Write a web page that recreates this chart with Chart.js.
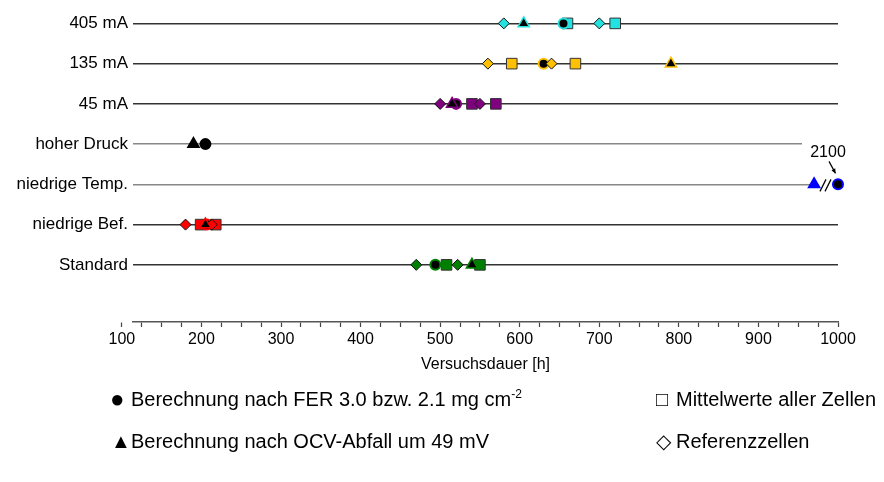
<!DOCTYPE html>
<html>
<head>
<meta charset="utf-8">
<script src="https://cdn.jsdelivr.net/npm/chart.js@4.4.1/dist/chart.umd.min.js"></script>
<style>
    html, body { margin: 0; padding: 0; background: #fff; }
    #wrap { position: relative; width: 884px; height: 482px; overflow: hidden; }
    #chart { position: absolute; left: 0; top: 0; }
    .leg { position: absolute; font-family: "Liberation Sans", Arial, sans-serif; font-size: 20px; line-height: 22px; color: #000; white-space: nowrap; }
    .leg sup { font-size: 12px; vertical-align: 8px; line-height: 0; }
    .sym { font-size: 24px; line-height: 22px; }
</style>
</head>
<body>
<div id="wrap">
    <canvas id="chart" width="884" height="482" style="width:884px;height:482px"></canvas>
    <div class="leg sym" style="left:110px; top:388px;">●</div>
    <div class="leg" style="left:131px; top:388px;">Berechnung nach FER 3.0 bzw. 2.1 mg cm<sup>-2</sup></div>
    <div class="leg" style="left:656px; top:388px;">□</div>
    <div class="leg" style="left:676px; top:388px;">Mittelwerte aller Zellen</div>
    <div class="leg" style="left:111px; top:430px;">▲</div>
    <div class="leg" style="left:131px; top:430px;">Berechnung nach OCV-Abfall um 49 mV</div>
    <div class="leg" style="left:656px; top:430px;">◇</div>
    <div class="leg" style="left:676px; top:430px;">Referenzzellen</div>
</div>
<script>
// Zeilen von unten nach oben
const rowLabels = ['Standard', 'niedrige Bef.', 'niedrige Temp.', 'hoher Druck', '45 mA', '135 mA', '405 mA'];
const rowColors = ['#008000', '#FF0000', '#0000FF', '#000000', '#800080', '#FFC000', '#22E2E2'];
const rowLineColors = ['#333', '#333', '#888', '#888', '#333', '#333', '#333'];

// Berechnung nach FER 3.0 bzw. 2.1 mg cm-2 (Kreis)
const ferHours = [494, 207, 2100, 205, 520, 630, 655];
// Berechnung nach OCV-Abfall um 49 mV (Dreieck)
const ocvHours = [540, 205, 970, 190, 515, 790, 605];
// Mittelwerte aller Zellen (Quadrat)
const meanHours = [[508, 550], [199, 218], [], [], [540, 570], [590, 670], [660, 720]];
// Referenzzellen (Raute)
const refHours = [[470, 522], [180, 213], [], [], [500, 550], [560, 640], [580, 700]];

const xTickLabels = [100, 200, 300, 400, 500, 600, 700, 800, 900, 1000];
const xMin = 114;
const xMax = 1000;
const minorStep = 25;
const breakLabel = '2100';

// Werte hinter dem Achsenbruch landen am Achsenende
function toPoints(values, rowIdx) {
    return values.map(v => ({ x: Math.min(v, xMax), y: rowIdx + 1 }));
}
const ferPoints = ferHours.flatMap((v, i) => toPoints([v], i));
const ocvPoints = ocvHours.flatMap((v, i) => toPoints([v], i));
const meanPoints = meanHours.flatMap((arr, i) => toPoints(arr, i));
const refPoints = refHours.flatMap((arr, i) => toPoints(arr, i));

const rowColor = ctx => rowColors[ctx.raw.y - 1];

// Achsenbruch "//" und Beschriftung 2100
const axisBreak = {
    id: 'axisBreak',
    beforeDatasetsDraw(chart) {
        const { ctx, scales: { x, y } } = chart;
        const row = ferHours.findIndex(v => v > xMax) + 1;
        const cx = x.getPixelForValue(xMax);
        const cy = y.getPixelForValue(row);
        ctx.save();
        ctx.fillStyle = '#fff';
        // Lücke in der Linie
        ctx.fillRect(cx - 20, cy - 3, 14, 6);
        // Textfeld deckt die Linie darüber ab
        ctx.fillRect(cx - 36, cy - 45, 56, 25);
        ctx.strokeStyle = '#000';
        ctx.lineWidth = 1.2;
        ctx.beginPath();
        [-15, -10].forEach(d => {
            ctx.moveTo(cx + d - 3, cy + 7);
            ctx.lineTo(cx + d + 3, cy - 5);
        });
        ctx.stroke();
        ctx.fillStyle = '#000';
        ctx.font = '16px "Liberation Sans", Arial, sans-serif';
        ctx.textAlign = 'center';
        ctx.textBaseline = 'middle';
        ctx.fillText(breakLabel, cx - 10, cy - 32);
        // Pfeil
        const x0 = cx - 9, y0 = cy - 23, x1 = cx - 2.5, y1 = cy - 11;
        ctx.beginPath();
        ctx.moveTo(x0, y0);
        ctx.lineTo(x1, y1);
        ctx.stroke();
        const a = Math.atan2(y1 - y0, x1 - x0);
        ctx.beginPath();
        ctx.moveTo(x1, y1);
        ctx.lineTo(x1 - 5 * Math.cos(a - 0.45), y1 - 5 * Math.sin(a - 0.45));
        ctx.lineTo(x1 - 5 * Math.cos(a + 0.45), y1 - 5 * Math.sin(a + 0.45));
        ctx.closePath();
        ctx.fill();
        ctx.restore();
    }
};

Chart.defaults.font.family = '"Liberation Sans", Arial, sans-serif';
Chart.defaults.color = '#000';

new Chart(document.getElementById('chart'), {
    type: 'scatter',
    data: {
        datasets: [
            {
                label: 'Berechnung nach OCV-Abfall um 49 mV',
                data: ocvPoints,
                pointStyle: 'triangle',
                pointRadius: 6.5,
                backgroundColor: ctx => ctx.raw.y === 3 ? '#0000FF' : '#000',
                borderColor: rowColor,
                borderWidth: 1.5,
                clip: false
            },
            {
                label: 'Referenzzellen',
                data: refPoints,
                pointStyle: 'rectRot',
                pointRadius: 5.5,
                backgroundColor: rowColor,
                borderColor: '#111',
                borderWidth: 1,
                clip: false
            },
            {
                label: 'Berechnung nach FER 3.0 bzw. 2.1 mg cm-2',
                data: ferPoints,
                pointStyle: 'circle',
                pointRadius: 5,
                backgroundColor: '#000',
                borderColor: rowColor,
                borderWidth: 2,
                clip: false
            },
            {
                label: 'Mittelwerte aller Zellen',
                data: meanPoints,
                pointStyle: 'rect',
                pointRadius: 7.5,
                backgroundColor: rowColor,
                borderColor: '#333',
                borderWidth: 1,
                clip: false
            }
        ]
    },
    options: {
        responsive: false,
        animation: false,
        events: [],
        layout: { padding: { left: 0, right: 46, top: 0, bottom: 108 } },
        plugins: {
            legend: { display: false },
            tooltip: { enabled: false }
        },
        scales: {
            x: {
                type: 'linear',
                min: xMin,
                max: xMax,
                afterBuildTicks: scale => {
                    const ticks = [];
                    for (let v = xTickLabels[0]; v <= xMax; v += minorStep) ticks.push({ value: v });
                    scale.ticks = ticks;
                },
                afterFit: scale => {
                    scale.height = 52;
                    scale.paddingLeft = 0;
                    scale.paddingRight = 0;
                },
                ticks: {
                    autoSkip: false,
                    maxRotation: 0,
                    padding: 3,
                    font: { size: 16 },
                    callback: v => xTickLabels.includes(v) ? String(v) : ''
                },
                grid: {
                    drawOnChartArea: false,
                    drawTicks: true,
                    tickLength: 5,
                    tickColor: '#444',
                    tickWidth: 1.2
                },
                border: { display: true, color: '#555', width: 1.5 },
                title: {
                    display: true,
                    text: 'Versuchsdauer [h]',
                    font: { size: 16 },
                    padding: 0
                }
            },
            y: {
                type: 'linear',
                min: -0.42,
                max: 7.37,
                afterBuildTicks: scale => {
                    scale.ticks = rowLabels.map((_, i) => ({ value: i + 1 }));
                },
                afterFit: scale => {
                    scale.width = 133;
                    scale.paddingTop = 0;
                    scale.paddingBottom = 0;
                },
                ticks: {
                    autoSkip: false,
                    padding: 5,
                    font: { size: 17 },
                    callback: v => rowLabels[v - 1]
                },
                grid: {
                    drawTicks: false,
                    color: ctx => rowLineColors[ctx.tick.value - 1],
                    lineWidth: 1.5
                },
                border: { display: false }
            }
        }
    },
    plugins: [axisBreak]
});
</script>
</body>
</html>
